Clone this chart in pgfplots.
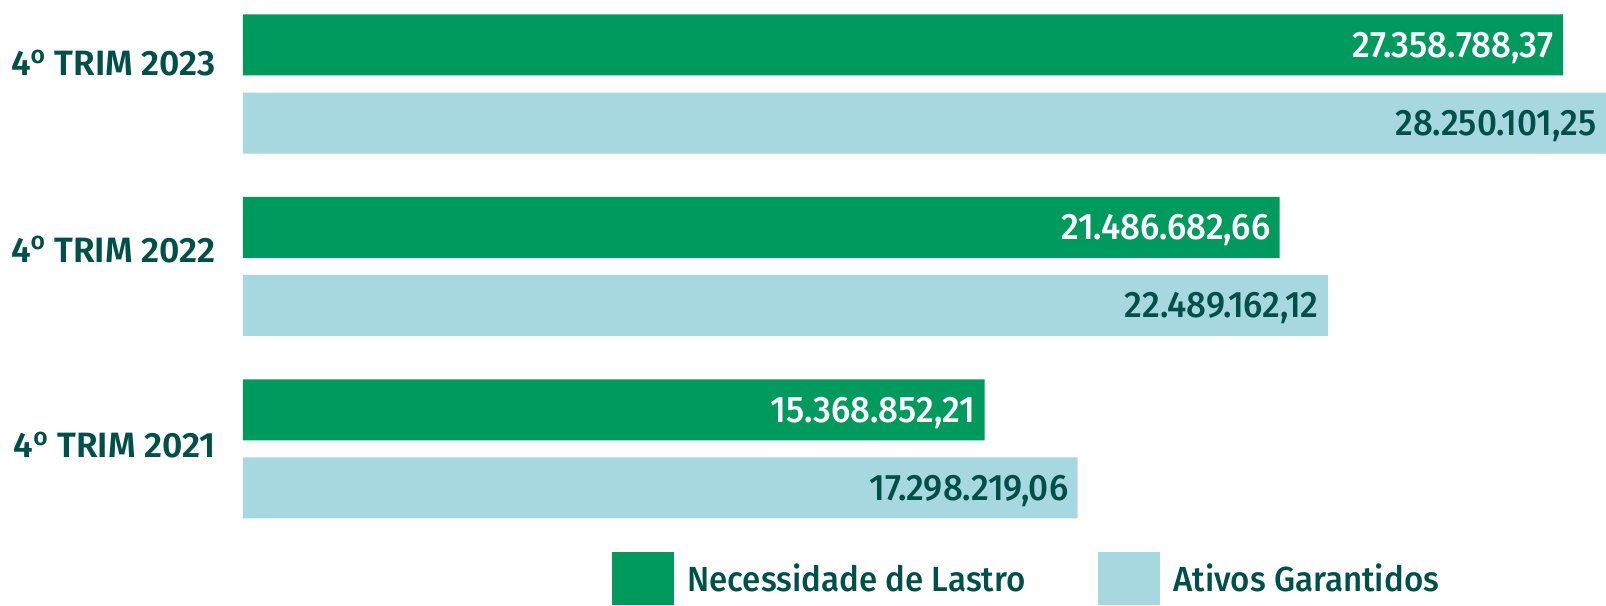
\documentclass[border=0pt]{standalone}
\usepackage{fontspec}
\setmainfont{Fira Sans}
\newfontfamily\numfont{Fira Sans Medium}[FakeStretch=0.95]
\newfontfamily\labfont{Fira Sans SemiBold}
\newfontfamily\legfont{Fira Sans Medium}[FakeStretch=0.95]
\usepackage{pgfplots}
\pgfplotsset{compat=1.18}
\definecolor{nlgreen}{RGB}{0,154,94}
\definecolor{agblue}{RGB}{167,216,223}
\definecolor{darkteal}{RGB}{0,80,74}
\begin{document}
\begin{tikzpicture}
\useasboundingbox (-121.5pt,-43pt) rectangle (681.5pt,259.5pt);
\begin{axis}[
    at={(0,0)}, anchor=south west,
    scale only axis, width=681.5pt, height=252.5pt,
    xbar, bar width=30.5pt,
    xmin=0, xmax=28250101.25,
    ymin=-0.3836, ymax=2.3836,
    axis line style={draw=none},
    xtick=\empty, scaled x ticks=false,
    ytick={0.022,1.093,2.115},
    yticklabels={4\textsuperscript{o} TRIM 2021,4\textsuperscript{o} TRIM 2022,4\textsuperscript{o} TRIM 2023},
    major tick length=0pt,
    yticklabel style={font=\labfont\fontsize{17.6}{20}\selectfont, text=darkteal, inner sep=0pt, anchor=east, xshift=-13.5pt},
    point meta=explicit symbolic,
    nodes near coords={\pgfplotspointmeta},
    nodes near coords style={font=\numfont\fontsize{18.4}{20}\selectfont, anchor=base east, inner sep=0pt, xshift=-4.5pt, yshift=-6.2pt},
    legend style={at={(axis description cs:0.2707,-0.0653)}, anchor=north west, draw=none, fill=none, inner sep=0pt,
        legend columns=2, font=\legfont\fontsize{17.4}{20}\selectfont, text=darkteal, nodes={inner sep=0pt},
        /tikz/every odd column/.append style={column sep=6.5pt},
        /tikz/every even column/.append style={column sep=36.5pt}},
    legend image code/.code={\fill[#1,draw=none] (0pt,-13.25pt) rectangle (31pt,13.25pt);},
]
\addplot[fill=nlgreen, draw=none, bar shift=19.5pt, nodes near coords style={text=white}] coordinates {
    (15368852.21,0) [{15.368.852,21}]
    (21486682.66,1) [{21.486.682,66}]
    (27358788.37,2) [{27.358.788,37}]
};
\addplot[fill=agblue, draw=none, bar shift=-19.5pt, nodes near coords style={text=darkteal}] coordinates {
    (17298219.06,0) [{17.298.219,06}]
    (22489162.12,1) [{22.489.162,12}]
    (28250101.25,2) [{28.250.101,25}]
};
\legend{Necessidade de Lastro, Ativos Garantidos}
\end{axis}
\end{tikzpicture}
\end{document}
